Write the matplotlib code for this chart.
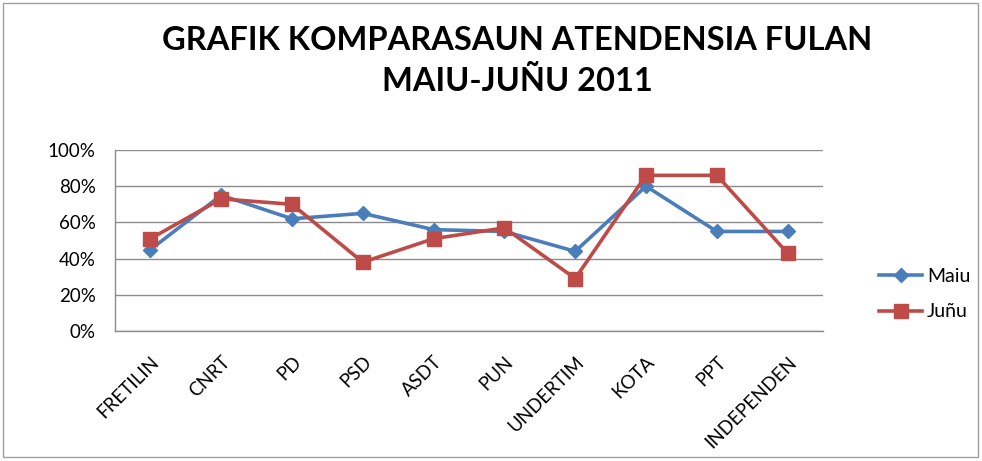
import matplotlib
matplotlib.use("Agg")
import matplotlib.pyplot as plt
from matplotlib.patches import Rectangle

# data
parties = ["FRETILIN", "CNRT", "PD", "PSD", "ASDT", "PUN", "UNDERTIM", "KOTA", "PPT", "INDEPENDEN"]
maiu = [0.45, 0.75, 0.62, 0.65, 0.56, 0.55, 0.44, 0.80, 0.55, 0.55]
junu = [0.51, 0.73, 0.70, 0.38, 0.51, 0.57, 0.29, 0.86, 0.86, 0.43]
yticks = [0, 0.2, 0.4, 0.6, 0.8, 1.0]
ytick_labels = ["0%", "20%", "40%", "60%", "80%", "100%"]

plt.rcParams['font.family'] = ['Lato', 'DejaVu Sans']

fig = plt.figure(figsize=(9.82, 4.61), dpi=100)
ax = fig.add_axes([115 / 982, 1 - 331 / 461, 708 / 982, 181 / 461])

x = list(range(len(parties)))
ax.plot(x, maiu, color="#4A7EBB", lw=2.6, marker="D", markersize=7, label="Maiu")
ax.plot(x, junu, color="#BE4B48", lw=2.6, marker="s", markersize=10, label="Juñu")

ax.set_xlim(-0.5, len(parties) - 0.5)
ax.set_ylim(0, 1)
ax.set_yticks(yticks)
ax.set_yticklabels(ytick_labels, fontsize=13.5)
ax.set_xticks(x)
ax.set_xticklabels(parties, fontsize=13.5, rotation=45, ha="right", rotation_mode="anchor")
ax.tick_params(axis="x", length=0, pad=16)
ax.tick_params(axis="y", length=0, pad=14)
ax.grid(axis="y", color="#8c8c8c", lw=1)
ax.set_axisbelow(True)
for side in ["top", "right"]:
    ax.spines[side].set_visible(False)
for side in ["left", "bottom"]:
    ax.spines[side].set_color("#8c8c8c")
    ax.spines[side].set_linewidth(1)

ax.legend(loc="center left", bbox_to_anchor=(1.055, 0.204), frameon=False,
          fontsize=14, handlelength=2.2, labelspacing=0.95, handletextpad=0.25)

fig.text(0.527, 1 - 40 / 461, "GRAFIK KOMPARASAUN ATENDENSIA FULAN", ha="center", va="center",
         fontsize=23.5, fontweight="bold")
fig.text(0.527, 1 - 81 / 461, "MAIU-JUÑU 2011", ha="center", va="center",
         fontsize=23.5, fontweight="bold")

# chart border
fig.patches.append(Rectangle((3 / 982, 4 / 461), 975 / 982, 454 / 461, transform=fig.transFigure,
                             fill=False, edgecolor="#a0a0a0", lw=1))

fig.savefig("out.png", dpi=100)
